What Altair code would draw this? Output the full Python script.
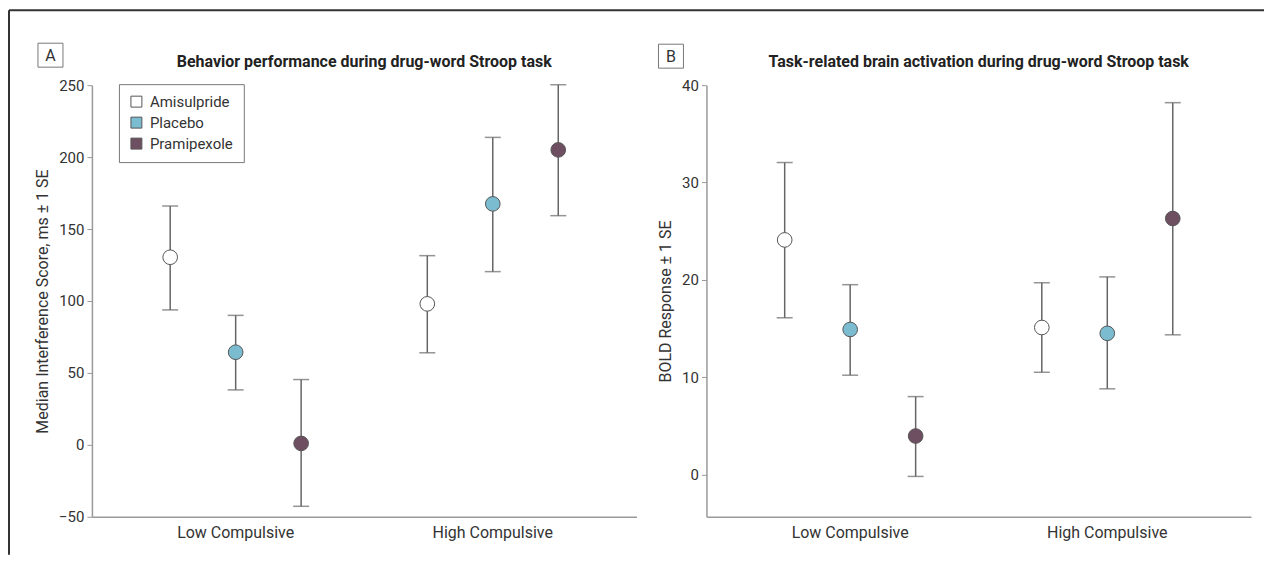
import altair as alt
import pandas as pd

groups = ["Low Compulsive"] * 3 + ["High Compulsive"] * 3
drugs = ["Amisulpride", "Placebo", "Pramipexole"] * 2
drug_order = ["Amisulpride", "Placebo", "Pramipexole"]
drug_colors = ["#ffffff", "#7bbcd0", "#6e4f62"]
group_order = ["Low Compulsive", "High Compulsive"]

# Panel A: median interference score (ms)
a_mean = [130.4, 64.4, 1.0, 98.0, 167.5, 205.0]
a_upper = [166.0, 90.0, 45.4, 131.5, 213.7, 250.3]
a_lower = [93.8, 38.2, -42.7, 64.0, 120.4, 159.3]

# Panel B: BOLD response
b_mean = [24.1, 14.9, 3.95, 15.1, 14.5, 26.3]
b_upper = [32.05, 19.5, 8.0, 19.7, 20.3, 38.2]
b_lower = [16.1, 10.2, -0.2, 10.5, 8.8, 14.35]

titles = ["Behavior performance during drug-word Stroop task",
          "Task-related brain activation during drug-word Stroop task"]

FONT = "Roboto"
LINE = "#666666"
AXIS = "#9a9a9a"
W, H = 545, 432


def panel(mean, upper, lower, ydomain, yvalues, ytitle, title, show_legend):
    df = pd.DataFrame({"group": groups, "drug": drugs, "mean": mean,
                       "upper": upper, "lower": lower})
    x = alt.X("group:N", sort=group_order, title=None,
              scale=alt.Scale(paddingInner=0.236, paddingOuter=0.177),
              axis=alt.Axis(labelAngle=0, ticks=False, domainColor=AXIS,
                            domainWidth=1.5, labelFontSize=16, labelFont=FONT,
                            labelColor="#333", labelPadding=8, grid=False))
    xo = alt.XOffset("drug:N", sort=drug_order, scale=alt.Scale(padding=0))
    y = alt.Y("mean:Q", title=ytitle,
              scale=alt.Scale(domain=ydomain, nice=False, zero=False),
              axis=alt.Axis(values=yvalues, grid=False, domainColor=AXIS,
                            domainWidth=1.5, tickColor=AXIS, tickSize=5,
                            labelFontSize=15, labelFont=FONT, labelColor="#333",
                            labelPadding=3, titleFont=FONT, titleFontSize=16,
                            titleFontWeight="normal", titleColor="#333",
                            titlePadding=8))
    base = alt.Chart(df)
    rules = base.mark_rule(color=LINE, strokeWidth=1.5).encode(
        x=x, xOffset=xo, y=alt.Y("lower:Q"), y2="upper:Q")
    cap_hi = base.mark_tick(color=LINE, size=16, thickness=1.5,
                            orient="horizontal").encode(
        x=x, xOffset=xo, y=alt.Y("upper:Q"))
    cap_lo = base.mark_tick(color=LINE, size=16, thickness=1.5,
                            orient="horizontal").encode(
        x=x, xOffset=xo, y=alt.Y("lower:Q"))
    if show_legend:
        leg = alt.Legend(title=None, orient="none", legendX=27, legendY=-1,
                         symbolType="square", symbolSize=120,
                         symbolStrokeColor="#555", symbolStrokeWidth=1,
                         labelFont=FONT, labelFontSize=15, labelColor="#333",
                         labelOffset=6, rowPadding=5, padding=10,
                         strokeColor="#777", fillColor="#ffffff")
    else:
        leg = None
    pts = base.mark_point(filled=True, size=215, stroke="#555",
                          strokeWidth=1, opacity=1).encode(
        x=x, xOffset=xo, y=y,
        fill=alt.Fill("drug:N", sort=drug_order,
                      scale=alt.Scale(domain=drug_order, range=drug_colors),
                      legend=leg))
    ttl = alt.Chart(pd.DataFrame({"t": [title]})).mark_text(
        font=FONT, fontSize=16, fontWeight="bold", color="#222",
        align="center", baseline="middle").encode(
        x=alt.value(W / 2), y=alt.value(-23), text="t:N")
    return [rules, cap_hi, cap_lo, pts, ttl]


def label_box(letter, x0, y0):
    d = pd.DataFrame({"t": [letter]})
    box = alt.Chart(d).mark_rect(fill="white", stroke="#777",
                                 strokeWidth=1).encode(
        x=alt.value(x0), x2=alt.value(x0 + 25),
        y=alt.value(y0), y2=alt.value(y0 + 24))
    txt = alt.Chart(d).mark_text(font=FONT, fontSize=16, color="#333",
                                 align="center", baseline="middle").encode(
        x=alt.value(x0 + 12.5), y=alt.value(y0 + 12.5), text="t:N")
    return [box, txt]


def border():
    d = pd.DataFrame({"t": [0]})
    left = alt.Chart(d).mark_rule(color="#333", strokeWidth=2).encode(
        x=alt.value(-83), y=alt.value(-75), y2=alt.value(470))
    top = alt.Chart(d).mark_rule(color="#333", strokeWidth=2).encode(
        x=alt.value(-83), x2=alt.value(1173), y=alt.value(-75))
    return [left, top]


pa = panel(a_mean, a_upper, a_lower, [-50, 250], [-50, 0, 50, 100, 150, 200, 250],
           "Median Interference Score, ms ± 1 SE", titles[0], True)
pb = panel(b_mean, b_upper, b_lower, [-4.35, 40], [0, 10, 20, 30, 40],
           "BOLD Response ± 1 SE", titles[1], False)

left = alt.layer(*(pa + label_box("A", -54, -42) + border())).properties(
    width=W, height=H)
right = alt.layer(*(pb + label_box("B", -48, -41))).properties(
    width=W, height=H)

chart = alt.hconcat(left, right, spacing=70).properties(
    bounds="flush", padding={"left": 0, "top": 1, "right": 0, "bottom": 0}
).resolve_scale(fill="independent").resolve_legend(
    fill="independent"
).configure(background="white").configure_view(stroke="transparent", strokeWidth=0)

chart.save("out.html", embed_options={"renderer": "svg", "actions": False})
